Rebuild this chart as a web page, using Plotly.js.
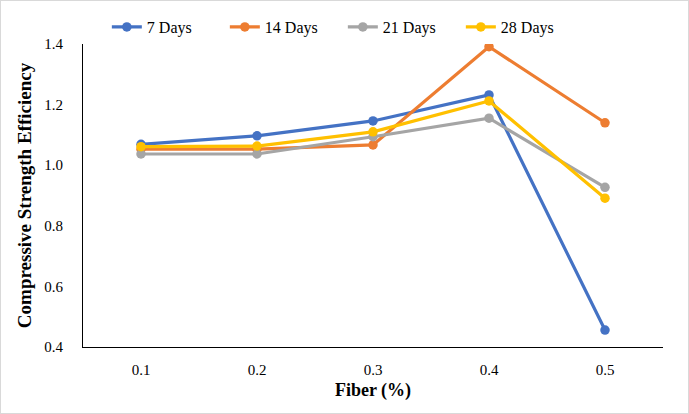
<!DOCTYPE html>
<html>
<head>
<meta charset="utf-8">
<script src="https://cdn.plot.ly/plotly-3.0.1.min.js"></script>
<style>
  html, body { margin: 0; padding: 0; background: #fff; }
  #chart { width: 687px; height: 412px; border: 1px solid #d9d9d9; }
</style>
</head>
<body>
<div id="chart"></div>
<script>
const fiber = ['0.1', '0.2', '0.3', '0.4', '0.5'];
const days7 = [1.069, 1.097, 1.146, 1.232, 0.456];
const days14 = [1.053, 1.053, 1.067, 1.391, 1.140];
const days21 = [1.037, 1.037, 1.094, 1.155, 0.927];
const days28 = [1.061, 1.063, 1.110, 1.212, 0.891];
const names = ['7 Days', '14 Days', '21 Days', '28 Days'];
const colors = ['#4472C4', '#ED7D31', '#A5A5A5', '#FFC000'];

const series = [days7, days14, days21, days28];
const traces = series.map((ys, i) => ({
  x: fiber,
  y: ys,
  name: names[i],
  type: 'scatter',
  mode: 'lines+markers',
  cliponaxis: false,
  line: { color: colors[i], width: 3.2 },
  marker: { color: colors[i], size: 9.5 },
}));

const font = 'Liberation Serif, Times New Roman, serif';

const layout = {
  width: 687,
  height: 412,
  margin: { l: 82, r: 25, t: 43, b: 66, autoexpand: false },
  paper_bgcolor: '#fff',
  plot_bgcolor: '#fff',
  font: { family: font, size: 15, color: '#000' },
  showlegend: true,
  legend: {
    orientation: 'h',
    x: 0.448, xanchor: 'center',
    y: 1.056, yanchor: 'middle',
    font: { family: font, size: 16, color: '#000' },
    itemwidth: 30,
    entrywidth: 73,
  },
  xaxis: {
    type: 'category',
    range: [-0.5, 4.5],
    showline: true,
    linecolor: '#000',
    linewidth: 1,
    showgrid: false,
    zeroline: false,
    ticks: '',
    ticklabelstandoff: 9,
    tickfont: { family: font, size: 15 },
    title: { text: '<b>Fiber (%)</b>', font: { family: font, size: 18 }, standoff: 6 },
  },
  yaxis: {
    range: [0.4, 1.4],
    dtick: 0.2,
    tickformat: '.1f',
    showline: true,
    linecolor: '#000',
    linewidth: 1,
    showgrid: false,
    zeroline: false,
    ticks: '',
    ticklabelstandoff: 16,
    tickfont: { family: font, size: 15 },
    title: { text: '<b>Compressive Strength Efficiency</b>', font: { family: font, size: 19 }, standoff: 7 },
  },
};

Plotly.newPlot('chart', traces, layout, { displayModeBar: false, staticPlot: true });
</script>
</body>
</html>
